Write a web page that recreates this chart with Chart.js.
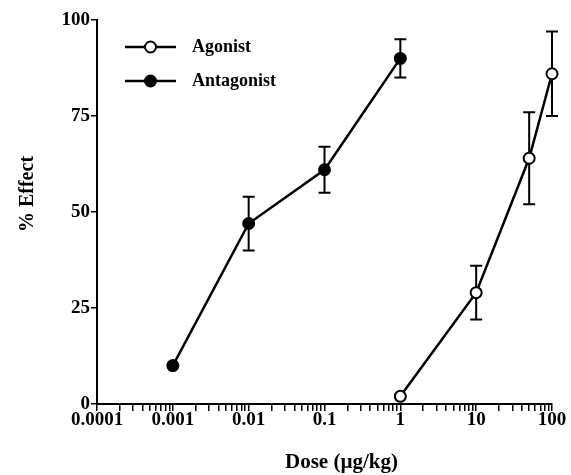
<!DOCTYPE html>
<html>
<head>
<meta charset="utf-8">
<script src="https://cdn.jsdelivr.net/npm/chart.js@4.4.1/dist/chart.umd.min.js"></script>
<style>
  html, body { margin: 0; padding: 0; background: #fff; }
  #wrap { width: 571px; height: 475px; position: relative; }
</style>
</head>
<body>
<div id="wrap"><canvas id="c" width="571" height="475"></canvas></div>
<script>
// ---- data ----
const agonistDose = [1, 10, 50, 100];
const agonistEffect = [2, 29, 64, 86];
const agonistErr = [0, 7, 12, 11];

const antagonistDose = [0.001, 0.01, 0.1, 1];
const antagonistEffect = [10, 47, 61, 90];
const antagonistErr = [0, 7, 6, 5];

const xDecades = [0.0001, 0.001, 0.01, 0.1, 1, 10, 100];
const xTickLabels = ['0.0001', '0.001', '0.01', '0.1', '1', '10', '100'];
const yTicks = [0, 25, 50, 75, 100];

const seriesNames = ['Agonist', 'Antagonist'];
const xTitle = 'Dose (\u00b5g/kg)';
const yTitle = '% Effect';

const FONT = "'Liberation Serif', 'Times New Roman', serif";

function pts(xs, ys) { return xs.map((x, i) => ({ x: x, y: ys[i] })); }

// all 1..9 multiples within each decade (minor ticks)
const xTickValues = [];
xDecades.forEach((d, i) => {
  if (i === xDecades.length - 1) { xTickValues.push(d); return; }
  for (let m = 1; m <= 9; m++) xTickValues.push(+(d * m).toPrecision(6));
});

const errorBars = {
  id: 'errorBars',
  beforeDatasetsDraw(chart) {
    const ctx = chart.ctx, xs = chart.scales.x, ys = chart.scales.y;
    ctx.save();
    ctx.strokeStyle = '#000';
    ctx.lineWidth = 2;
    chart.data.datasets.forEach(ds => {
      ds.data.forEach((p, i) => {
        const e = ds.err[i];
        if (!e) return;
        const px = xs.getPixelForValue(p.x);
        const top = ys.getPixelForValue(p.y + e);
        const bot = ys.getPixelForValue(p.y - e);
        const cw = 6;
        ctx.beginPath();
        ctx.moveTo(px, top); ctx.lineTo(px, bot);
        ctx.moveTo(px - cw, top); ctx.lineTo(px + cw, top);
        ctx.moveTo(px - cw, bot); ctx.lineTo(px + cw, bot);
        ctx.stroke();
      });
    });
    ctx.restore();
  }
};

const lineLegend = {
  id: 'lineLegend',
  afterDraw(chart) {
    const ctx = chart.ctx;
    const a = chart.chartArea;
    const x0 = a.left + 28, x1 = a.left + 79, tx = a.left + 95;
    ctx.save();
    chart.data.datasets.forEach((ds, i) => {
      const y = a.top + 27 + i * 34;
      ctx.strokeStyle = '#000';
      ctx.lineWidth = 2.5;
      ctx.beginPath(); ctx.moveTo(x0, y); ctx.lineTo(x1, y); ctx.stroke();
      ctx.beginPath();
      ctx.arc((x0 + x1) / 2, y, 5.5, 0, Math.PI * 2);
      ctx.fillStyle = ds.pointBackgroundColor;
      ctx.fill();
      ctx.lineWidth = 2;
      ctx.stroke();
      ctx.fillStyle = '#000';
      ctx.font = "bold 18px " + FONT;
      ctx.textBaseline = 'middle';
      ctx.textAlign = 'left';
      ctx.fillText(ds.label, tx, y);
    });
    ctx.restore();
  }
};

// axis titles, placed slightly off-centre as in the reference
const axisTitles = {
  id: 'axisTitles',
  afterDraw(chart) {
    const ctx = chart.ctx, a = chart.chartArea;
    ctx.save();
    ctx.fillStyle = '#000';
    ctx.textAlign = 'center';
    ctx.textBaseline = 'middle';
    ctx.font = "bold 21px " + FONT;
    ctx.fillText(xTitle, (a.left + a.right) / 2 + 17, chart.height - 12);
    ctx.translate(28, (a.top + a.bottom) / 2 - 18);
    ctx.rotate(-Math.PI / 2);
    ctx.font = "bold 20px " + FONT;
    ctx.fillText(yTitle, 0, 0);
    ctx.restore();
  }
};

new Chart(document.getElementById('c'), {
  type: 'line',
  data: {
    datasets: [
      {
        label: seriesNames[0],
        data: pts(agonistDose, agonistEffect),
        err: agonistErr,
        borderColor: '#000', borderWidth: 2.5,
        pointRadius: 5.5, pointBorderWidth: 2,
        pointBackgroundColor: '#fff', pointBorderColor: '#000',
        tension: 0, clip: false
      },
      {
        label: seriesNames[1],
        data: pts(antagonistDose, antagonistEffect),
        err: antagonistErr,
        borderColor: '#000', borderWidth: 2.5,
        pointRadius: 5.5, pointBorderWidth: 2,
        pointBackgroundColor: '#000', pointBorderColor: '#000',
        tension: 0, clip: false
      }
    ]
  },
  options: {
    responsive: false,
    animation: false,
    devicePixelRatio: 1,
    layout: { padding: { top: 20, right: 19, bottom: 0, left: 0 } },
    plugins: { legend: { display: false }, tooltip: { enabled: false } },
    scales: {
      x: {
        type: 'logarithmic',
        min: xDecades[0], max: xDecades[xDecades.length - 1],
        afterBuildTicks(scale) { scale.ticks = xTickValues.map(v => ({ value: v })); },
        afterFit(scale) { scale.height = 71; },
        border: { display: true, color: '#000', width: 2 },
        grid: { drawOnChartArea: false, drawTicks: true, tickLength: 7, color: '#000', lineWidth: 1.5 },
        ticks: {
          autoSkip: false, maxRotation: 0, padding: -2, color: '#000',
          font: { family: FONT, size: 19, weight: 'bold' },
          callback(v) {
            const k = xDecades.findIndex(d => Math.abs(d - v) / d < 1e-6);
            return k >= 0 ? xTickLabels[k] : '';
          }
        },
        title: { display: false }
      },
      y: {
        min: 0, max: 100,
        afterBuildTicks(scale) { scale.ticks = yTicks.map(v => ({ value: v })); },
        afterFit(scale) { scale.width = 97; },
        border: { display: true, color: '#000', width: 2 },
        grid: { drawOnChartArea: false, drawTicks: true, tickLength: 6, color: '#000', lineWidth: 1.5 },
        ticks: {
          padding: 1, color: '#000',
          font: { family: FONT, size: 19, weight: 'bold' }
        },
        title: { display: false }
      }
    }
  },
  plugins: [errorBars, lineLegend, axisTitles]
});
</script>
</body>
</html>
